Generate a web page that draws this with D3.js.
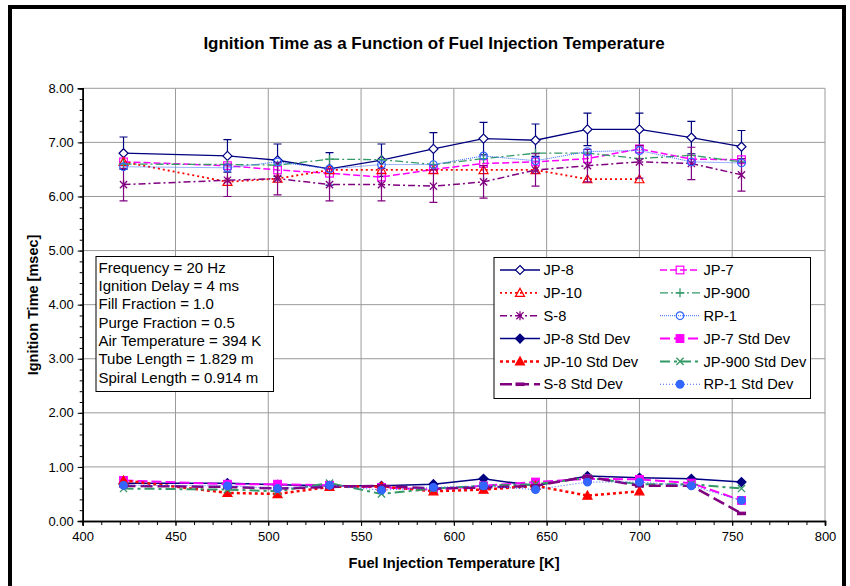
<!DOCTYPE html>
<html>
<head>
<meta charset="utf-8">
<script src="https://cdn.jsdelivr.net/npm/d3@7"></script>
<style>
  body { margin: 0; background: #fff; }
  svg text { font-family: "Liberation Sans", Arial, sans-serif; }
</style>
</head>
<body>
<div class="chart"></div>
<script>
// data
var temps = [422, 478, 505, 533, 561, 589, 616, 644, 672, 700, 728, 755];
var jp8 = [6.80, 6.75, 6.67, 6.51, 6.67, 6.88, 7.07, 7.04, 7.24, 7.24, 7.09, 6.92];
var jp7 = [6.64, 6.57, 6.49, 6.43, 6.36, 6.50, 6.61, 6.64, 6.70, 6.88, 6.69, 6.68];
var jp10 = [6.64, 6.27, 6.33, 6.49, 6.49, 6.49, 6.49, 6.49, 6.32, 6.32];
var jp900 = [6.60, 6.59, 6.58, 6.69, 6.68, 6.59, 6.70, 6.80, 6.80, 6.70, 6.76, 6.64];
var s8 = [6.22, 6.30, 6.33, 6.22, 6.22, 6.19, 6.27, 6.49, 6.57, 6.64, 6.61, 6.40];
var rp1 = [6.55, 6.53, 6.64, 6.51, 6.59, 6.59, 6.75, 6.66, 6.83, 6.85, 6.64, 6.62];
var jp8Sd = [0.70, 0.70, 0.67, 0.65, 0.65, 0.68, 0.78, 0.65, 0.83, 0.80, 0.78, 0.72];
var jp7Sd = [0.75, 0.68, 0.68, 0.66, 0.62, 0.58, 0.65, 0.72, 0.78, 0.77, 0.70, 0.38];
var jp10Sd = [0.75, 0.52, 0.50, 0.63, 0.64, 0.55, 0.58, 0.65, 0.47, 0.55];
var jp900Sd = [0.60, 0.58, 0.55, 0.70, 0.50, 0.60, 0.65, 0.68, 0.80, 0.68, 0.68, 0.60];
var s8Sd = [0.65, 0.63, 0.60, 0.63, 0.65, 0.60, 0.62, 0.65, 0.82, 0.65, 0.65, 0.14];
var rp1Sd = [0.66, 0.65, 0.60, 0.66, 0.57, 0.62, 0.65, 0.58, 0.72, 0.72, 0.65, 0.38];
var errBar = 0.3; // fixed error bar on JP-8 and S-8
var xTicks = [400, 450, 500, 550, 600, 650, 700, 750, 800];
var yTicks = [0, 1, 2, 3, 4, 5, 6, 7, 8];
var infoLines = ["Frequency = 20 Hz", "Ignition Delay = 4 ms", "Fill Fraction = 1.0",
  "Purge Fraction = 0.5", "Air Temperature = 394 K", "Tube Length = 1.829 m", "Spiral Length = 0.914 m"];

// series styles (legend order, row by row)
var series = [
  { name: "JP-8", v: jp8, c: "#000080", dash: null, w: 1.3, m: "diamond", fill: false, err: true },
  { name: "JP-7", v: jp7, c: "#FF00FF", dash: "7,3", w: 1.5, m: "square", fill: false },
  { name: "JP-10", v: jp10, c: "#FF0000", dash: "2,3", w: 1.8, m: "triangle", fill: false },
  { name: "JP-900", v: jp900, c: "#339966", dash: "8,3,2,3", w: 1.3, m: "plus", fill: false },
  { name: "S-8", v: s8, c: "#800080", dash: "7,3,2,3", w: 1.5, m: "star", fill: false, err: true },
  { name: "RP-1", v: rp1, c: "#3366FF", dash: "1,1", w: 1, m: "circle", fill: false },
  { name: "JP-8 Std Dev", v: jp8Sd, c: "#000080", dash: null, w: 1.5, m: "diamond", fill: true },
  { name: "JP-7 Std Dev", v: jp7Sd, c: "#FF00FF", dash: "10,4", w: 2, m: "square", fill: true },
  { name: "JP-10 Std Dev", v: jp10Sd, c: "#FF0000", dash: "3,3", w: 2.5, m: "triangle", fill: true },
  { name: "JP-900 Std Dev", v: jp900Sd, c: "#339966", dash: "10,4,3,4", w: 2, m: "x", fill: false },
  { name: "S-8 Std Dev", v: s8Sd, c: "#800080", dash: "12,5", w: 2.5, m: "dash", fill: true },
  { name: "RP-1 Std Dev", v: rp1Sd, c: "#3366FF", dash: "1,2", w: 1, m: "circle", fill: true }
];

var W = 850, H = 586;
var svg = d3.select(".chart").append("svg").attr("width", W).attr("height", H);

// outer frame
svg.append("rect").attr("x", 10).attr("y", 7).attr("width", 834).attr("height", 620)
  .attr("fill", "#fff").attr("stroke", "#000").attr("stroke-width", 4);

var xScale = d3.scaleLinear().domain([400, 800]).range([82.7, 825]);
var yScale = d3.scaleLinear().domain([0, 8]).range([521, 88.3]);

// gridlines
var grid = svg.append("g");
grid.selectAll(".gx").data(xTicks.slice(1)).enter().append("line")
  .attr("x1", d => xScale(d)).attr("x2", d => xScale(d))
  .attr("y1", yScale(0)).attr("y2", yScale(8))
  .attr("stroke", "#9a9a9a").attr("stroke-width", 1);
grid.selectAll(".gy").data(yTicks.slice(1)).enter().append("line")
  .attr("x1", xScale(400)).attr("x2", xScale(800))
  .attr("y1", d => yScale(d)).attr("y2", d => yScale(d))
  .attr("stroke", "#9a9a9a").attr("stroke-width", 1);

// axes
var xAxis = d3.axisBottom(xScale).tickValues(xTicks).tickSize(5).tickPadding(6).tickFormat(d3.format("d"));
svg.append("g").attr("transform", `translate(0,${yScale(0)})`).call(xAxis);
var xMinor = d3.axisBottom(xScale).tickValues(d3.range(400, 801, 10)).tickSize(4).tickFormat("");
svg.append("g").attr("transform", `translate(0,${yScale(0)})`).call(xMinor);

var yAxis = d3.axisLeft(yScale).tickValues(yTicks).tickSize(5).tickPadding(4).tickFormat(d3.format(".2f"));
svg.append("g").attr("transform", `translate(${xScale(400)},0)`).call(yAxis);
var yMinor = d3.axisLeft(yScale).tickValues(d3.range(0, 8.01, 0.2)).tickSize(3).tickFormat("");
svg.append("g").attr("transform", `translate(${xScale(400)},0)`).call(yMinor);

svg.selectAll(".domain").attr("stroke", "#000").attr("stroke-width", 1.5);
svg.selectAll(".tick line").attr("stroke", "#000");
svg.selectAll(".tick text").attr("font-size", 13).attr("fill", "#000")
  .style("font-family", "'Liberation Sans', Arial, sans-serif");

// titles
svg.append("text").attr("x", 434).attr("y", 49).attr("text-anchor", "middle")
  .attr("font-size", 17).attr("font-weight", "bold").text("Ignition Time as a Function of Fuel Injection Temperature");
svg.append("text").attr("x", 454).attr("y", 568).attr("text-anchor", "middle")
  .attr("font-size", 14.7).attr("font-weight", "bold").text("Fuel Injection Temperature [K]");
svg.append("text").attr("transform", "translate(38,305) rotate(-90)").attr("text-anchor", "middle")
  .attr("font-size", 14.5).attr("font-weight", "bold").text("Ignition Time [msec]");

// marker shapes
function marker(g, type, color, filled, s) {
  var f = filled ? color : "none";
  if (type === "diamond") {
    g.append("path").attr("d", `M0,${-s}L${s},0L0,${s}L${-s},0Z`).attr("fill", filled ? color : "#fff").attr("stroke", color).attr("stroke-width", 1.2);
  } else if (type === "square") {
    var a = s * 0.85;
    g.append("rect").attr("x", -a).attr("y", -a).attr("width", 2 * a).attr("height", 2 * a)
      .attr("fill", filled ? color : "none").attr("stroke", color).attr("stroke-width", 1.2);
  } else if (type === "triangle") {
    g.append("path").attr("d", `M0,${-s}L${s},${s * 0.8}L${-s},${s * 0.8}Z`).attr("fill", filled ? color : "none").attr("stroke", color).attr("stroke-width", 1.2);
  } else if (type === "plus") {
    g.append("path").attr("d", `M${-s},0H${s}M0,${-s}V${s}`).attr("stroke", color).attr("stroke-width", 1.3);
  } else if (type === "x") {
    var b = s * 0.8;
    g.append("path").attr("d", `M${-b},${-b}L${b},${b}M${-b},${b}L${b},${-b}`).attr("stroke", color).attr("stroke-width", 1.3);
  } else if (type === "star") {
    var b2 = s * 0.8;
    g.append("path").attr("d", `M${-b2},${-b2}L${b2},${b2}M${-b2},${b2}L${b2},${-b2}M0,${-s}V${s}`).attr("stroke", color).attr("stroke-width", 1.3);
  } else if (type === "circle") {
    g.append("circle").attr("r", s * 0.85).attr("fill", f).attr("stroke", color).attr("stroke-width", 1.2);
  } else if (type === "dash") {
    g.append("rect").attr("x", -s).attr("y", -1.8).attr("width", 2 * s).attr("height", 3.6).attr("fill", color);
  }
}

var line = d3.line().x(d => xScale(d[0])).y(d => yScale(d[1]));
var plot = svg.append("g");
series.forEach(function (s) {
  var pts = s.v.map((v, i) => [temps[i], v]);
  var g = plot.append("g");
  g.append("path").datum(pts).attr("d", line).attr("fill", "none")
    .attr("stroke", s.c).attr("stroke-width", s.w).attr("stroke-dasharray", s.dash);
  if (s.err) {
    var eg = g.selectAll(".err").data(pts).enter().append("g");
    eg.append("path").attr("d", d => {
      var x = xScale(d[0]), y1 = yScale(d[1] + errBar), y2 = yScale(d[1] - errBar);
      return `M${x - 4},${y1}H${x + 4}M${x},${y1}V${y2}M${x - 4},${y2}H${x + 4}`;
    }).attr("stroke", s.c).attr("stroke-width", 1.2).attr("fill", "none");
  }
  pts.forEach(function (d) {
    var mg = g.append("g").attr("transform", `translate(${xScale(d[0])},${yScale(d[1])})`);
    marker(mg, s.m, s.c, s.fill, 4.5);
  });
});

// info box
var info = svg.append("g");
info.append("rect").attr("x", 96).attr("y", 256.5).attr("width", 177.5).attr("height", 135)
  .attr("fill", "#fff").attr("stroke", "#000").attr("stroke-width", 1);
info.selectAll("text").data(infoLines).enter().append("text")
  .attr("x", 98.5).attr("y", (d, i) => 272.5 + i * 18.35)
  .attr("font-size", 15).text(d => d);

// legend
var leg = svg.append("g");
leg.append("rect").attr("x", 494).attr("y", 257.5).attr("width", 316.5).attr("height", 141)
  .attr("fill", "#fff").attr("stroke", "#000").attr("stroke-width", 1);
series.forEach(function (s, i) {
  var col = i % 2, row = Math.floor(i / 2);
  var x0 = col === 0 ? 500 : 660, yy = 270 + row * 22.85;
  var lg = leg.append("g");
  lg.append("line").attr("x1", x0).attr("x2", x0 + 40).attr("y1", yy).attr("y2", yy)
    .attr("stroke", s.c).attr("stroke-width", s.w).attr("stroke-dasharray", s.dash);
  var mg = lg.append("g").attr("transform", `translate(${x0 + 20},${yy})`);
  marker(mg, s.m, s.c, s.fill, 4.5);
  lg.append("text").attr("x", x0 + 43.5).attr("y", yy + 5.2).attr("font-size", 14.7).text(s.name);
});
</script>
</body>
</html>
